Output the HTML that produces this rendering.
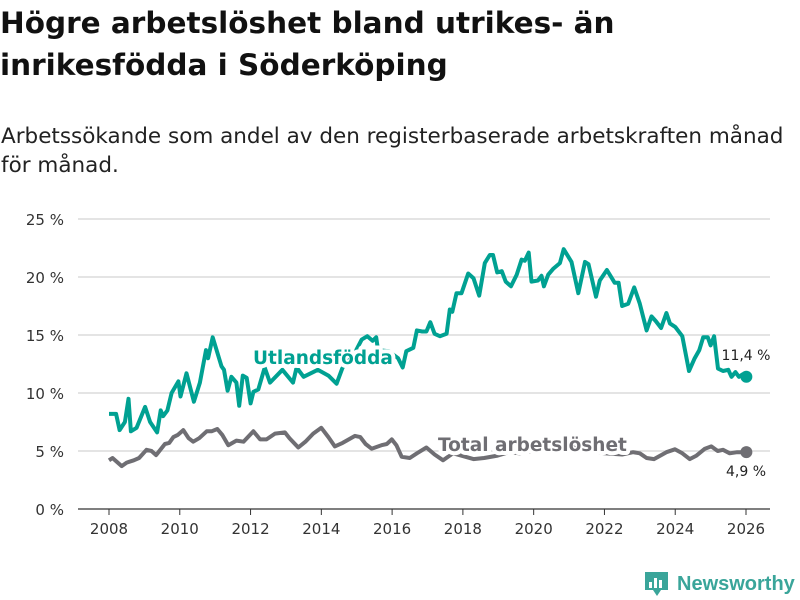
<!DOCTYPE html>
<html><head><meta charset="utf-8">
<style>
body{margin:0;width:800px;height:600px;background:#fff;overflow:hidden;font-family:"DejaVu Sans","Liberation Sans",sans-serif;color:#111}
#title{position:absolute;left:0px;top:2px;font-size:29.5px;font-weight:bold;line-height:42px;margin:0}
#sub{position:absolute;left:1px;top:122px;font-size:21.5px;line-height:29px;color:#222;margin:0}
svg{position:absolute;left:0;top:0}
</style></head><body>
<h1 id="title">Högre arbetslöshet bland utrikes- än<br>inrikesfödda i Söderköping</h1>
<p id="sub">Arbetssökande som andel av den registerbaserade arbetskraften månad<br>för månad.</p>
<svg id="chart" width="800" height="600"></svg>
<script>
const yTicks=[0,5,10,15,20,25];
const yTickLabels=["0 %","5 %","10 %","15 %","20 %","25 %"];
const xTicks=[2008,2010,2012,2014,2016,2018,2020,2022,2024,2026];
const foreignDates=[2008.0,2008.2,2008.3,2008.45,2008.55,2008.62,2008.78,2009.02,2009.16,2009.36,2009.46,2009.53,2009.65,2009.77,2009.96,2010.02,2010.19,2010.4,2010.57,2010.74,2010.8,2010.93,2011.18,2011.25,2011.35,2011.46,2011.6,2011.68,2011.78,2011.89,2012.0,2012.08,2012.22,2012.4,2012.55,2012.9,2013.2,2013.3,2013.5,2013.9,2014.2,2014.43,2014.6,2014.9,2015.14,2015.3,2015.45,2015.55,2015.6,2015.9,2016.17,2016.3,2016.4,2016.6,2016.7,2016.85,2016.97,2017.08,2017.2,2017.35,2017.54,2017.63,2017.7,2017.82,2017.96,2018.15,2018.3,2018.46,2018.62,2018.76,2018.85,2018.97,2019.1,2019.21,2019.36,2019.52,2019.66,2019.75,2019.86,2019.94,2020.12,2020.22,2020.29,2020.41,2020.55,2020.74,2020.85,2021.07,2021.26,2021.45,2021.55,2021.76,2021.87,2022.07,2022.29,2022.4,2022.5,2022.67,2022.84,2023.0,2023.19,2023.33,2023.45,2023.6,2023.75,2023.85,2024.0,2024.2,2024.39,2024.55,2024.68,2024.79,2024.92,2025.0,2025.1,2025.21,2025.35,2025.5,2025.59,2025.7,2025.8,2025.9,2026.01];
const foreignValues=[8.2,8.2,6.8,7.5,9.5,6.7,7.0,8.8,7.5,6.6,8.5,8.0,8.5,10.0,11.0,9.7,11.7,9.25,10.9,13.7,13.0,14.8,12.3,12.0,10.2,11.4,10.9,8.9,11.5,11.3,9.1,10.1,10.3,12.2,10.9,12.0,10.9,12.2,11.4,12.0,11.5,10.8,12.2,13.2,14.6,14.9,14.5,14.8,13.7,13.6,13.0,12.2,13.6,13.9,15.4,15.3,15.3,16.1,15.1,14.9,15.1,17.2,17.0,18.6,18.6,20.3,19.9,18.4,21.2,21.9,21.9,20.4,20.5,19.6,19.2,20.2,21.5,21.4,22.1,19.6,19.7,20.1,19.2,20.2,20.7,21.2,22.4,21.3,18.6,21.3,21.1,18.3,19.7,20.6,19.5,19.5,17.5,17.7,19.1,17.7,15.4,16.6,16.2,15.6,16.9,16.0,15.7,14.9,11.9,13.0,13.7,14.8,14.8,14.1,14.9,12.1,11.9,12.0,11.4,11.8,11.4,11.6,11.4];
const totalDates=[2008.0,2008.1,2008.36,2008.5,2008.7,2008.85,2009.06,2009.2,2009.33,2009.58,2009.7,2009.82,2009.95,2010.1,2010.25,2010.38,2010.55,2010.76,2010.9,2011.06,2011.2,2011.37,2011.6,2011.8,2012.08,2012.27,2012.45,2012.69,2012.97,2013.1,2013.35,2013.55,2013.77,2014.0,2014.2,2014.38,2014.6,2014.95,2015.1,2015.25,2015.42,2015.7,2015.85,2015.99,2016.12,2016.27,2016.5,2016.7,2016.97,2017.2,2017.44,2017.72,2017.95,2018.3,2018.6,2018.98,2019.3,2019.6,2020.0,2020.4,2020.7,2021.0,2021.5,2022.0,2022.5,2022.81,2023.0,2023.19,2023.4,2023.75,2023.99,2024.2,2024.41,2024.6,2024.84,2025.02,2025.2,2025.35,2025.54,2025.75,2026.01];
const totalValues=[4.2,4.4,3.7,4.0,4.2,4.4,5.1,5.0,4.65,5.6,5.7,6.2,6.4,6.8,6.1,5.8,6.1,6.7,6.7,6.9,6.4,5.5,5.9,5.8,6.7,6.0,6.0,6.5,6.6,6.1,5.3,5.8,6.5,7.0,6.2,5.4,5.7,6.3,6.2,5.6,5.2,5.5,5.6,6.0,5.5,4.5,4.4,4.8,5.3,4.7,4.2,4.8,4.6,4.3,4.4,4.6,4.9,4.8,5.0,5.3,5.2,5.4,5.0,4.8,4.7,4.9,4.8,4.4,4.3,4.9,5.15,4.8,4.3,4.6,5.2,5.4,5.0,5.1,4.8,4.9,4.9];

const svg=document.getElementById('chart');const NS='http://www.w3.org/2000/svg';
const x0=109,x1=746,y0=509,yPer=11.6;
function xs(d){return x0+(d-2008)*(x1-x0)/18;}
function ys(v){return y0-v*yPer;}
function mk(t,a,p){const e=document.createElementNS(NS,t);for(const k in a)e.setAttribute(k,a[k]);(p||svg).appendChild(e);return e;}
yTicks.forEach((v,i)=>{
  if(v>0){const g=mk('line',{x1:78,x2:770,y1:ys(v),y2:ys(v),stroke:'#dcdcdc','stroke-width':1.5});
  
  }
  const t=mk('text',{x:64,y:ys(v)+6,'text-anchor':'end','font-size':15,fill:'#333'});
  
  
  t.textContent=yTickLabels[i];
});
const ax=mk('line',{x1:78,x2:770,y1:y0,y2:y0,stroke:'#333','stroke-width':1.2});


xTicks.forEach(yr=>{
  const l=mk('line',{x1:xs(yr),x2:xs(yr),y1:y0,y2:y0+6,stroke:'#333','stroke-width':1});
  
  
  const t=mk('text',{x:xs(yr),y:534,'text-anchor':'middle','font-size':15,fill:'#333'});
  
  
  t.textContent=yr;
});
function line(d,v,c,name){
  const p=mk('path',{d:d.map((q,i)=>(i?'L':'M')+xs(q).toFixed(1)+','+ys(v[i]).toFixed(1)).join(''),fill:'none',stroke:c,'stroke-width':4,'stroke-linejoin':'round'});
  
  
  const n=d.length-1;
  const c2=mk('circle',{cx:xs(d[n]),cy:ys(v[n]),r:6,fill:c});
  
  
}
line(totalDates,totalValues,'#6f6e73','total-line');
line(foreignDates,foreignValues,'#00a192','foreign-born-line');
function lab(txt,x,y,c,sz,w,name,anchor){
  const t=mk('text',{x:x,y:y,'text-anchor':anchor||'start','font-size':sz,'font-weight':w,fill:c,stroke:'#fff','stroke-width':w=='bold'?8:4,'paint-order':'stroke','stroke-linejoin':'round'});
  
  
  t.textContent=txt;
}
lab('Utlandsfödda',253,364,'#00a192',18.5,'bold','series-label-foreign-born');
lab('Total arbetslöshet',438,451,'#6f6e73',18.5,'bold','series-label-total');
lab('11,4 %',746,360,'#222',14,'normal','end-value-foreign-born','middle');
lab('4,9 %',746,476,'#222',14,'normal','end-value-total','middle');
// logo
const lg=mk('g',{});


mk('path',{d:'M645,572 h23 v18 h-7 l-4,6 l-4,-6 h-8 z',fill:'#3aa59a'},lg);
mk('rect',{x:649,y:582,width:3,height:6,fill:'#fff'},lg);
mk('rect',{x:654,y:578,width:3,height:10,fill:'#fff'},lg);
mk('rect',{x:659,y:580,width:3,height:8,fill:'#fff'},lg);
const lt=mk('text',{x:677,y:590,'font-size':20,'font-weight':'bold',fill:'#3aa59a','font-family':'Liberation Sans'},lg);
lt.textContent='Newsworthy';
</script>
</body></html>
